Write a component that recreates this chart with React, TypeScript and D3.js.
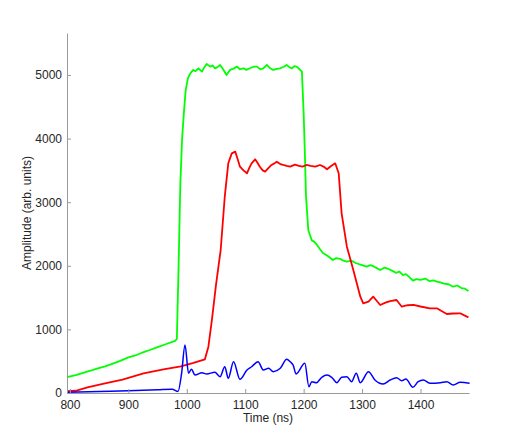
import React, { useEffect, useRef } from 'react';
import * as d3 from 'd3';

// time (ns), amplitude (arb. units)
const greenT = [795, 810, 820, 835, 845, 860, 870, 885, 900, 912, 925, 938, 950, 965, 980, 983, 986, 989, 992, 995, 998, 1002, 1006, 1011, 1015, 1020, 1026, 1030, 1034, 1040, 1044, 1048, 1052, 1057, 1063, 1068, 1074, 1080, 1086, 1091, 1097, 1102, 1108, 1114, 1120, 1126, 1131, 1137, 1142, 1148, 1154, 1160, 1166, 1171, 1176, 1180, 1184, 1188, 1193, 1197, 1200, 1202, 1204, 1208, 1214, 1218, 1222, 1228, 1233, 1242, 1250, 1256, 1262, 1268, 1274, 1282, 1290, 1300, 1308, 1314, 1320, 1326, 1331, 1338, 1345, 1352, 1358, 1364, 1370, 1375, 1380, 1387, 1393, 1400, 1408, 1415, 1422, 1428, 1434, 1440, 1448, 1456, 1463, 1470, 1476, 1482];
const greenV = [250, 280, 310, 350, 380, 420, 450, 500, 560, 590, 640, 680, 720, 770, 820, 850, 2000, 3300, 4000, 4400, 4750, 4950, 5026, 5079, 5060, 5105, 5052, 5120, 5173, 5131, 5150, 5105, 5120, 5157, 5079, 5000, 5079, 5100, 5131, 5090, 5105, 5080, 5105, 5130, 5131, 5090, 5105, 5157, 5110, 5079, 5095, 5105, 5130, 5157, 5120, 5105, 5140, 5131, 5090, 5052, 4400, 3800, 3100, 2560, 2400, 2380, 2340, 2260, 2200, 2150, 2090, 2120, 2110, 2080, 2065, 2080, 2040, 2010, 1986, 2010, 1990, 1960, 1934, 1970, 1950, 1920, 1890, 1910, 1855, 1870, 1830, 1766, 1790, 1780, 1800, 1760, 1770, 1750, 1740, 1720, 1710, 1671, 1690, 1650, 1640, 1604];

const redT = [795, 810, 830, 860, 890, 926, 960, 990, 1010, 1031, 1037, 1043, 1050, 1058, 1065, 1071, 1077, 1083, 1087, 1091, 1097, 1103, 1107, 1111, 1117, 1121, 1125, 1130, 1134, 1140, 1145, 1150, 1154, 1160, 1165, 1171, 1177, 1185, 1192, 1198, 1205, 1212, 1220, 1228, 1234, 1240, 1247, 1254, 1260, 1265, 1274, 1285, 1297, 1302, 1311, 1319, 1325, 1331, 1340, 1348, 1359, 1368, 1378, 1388, 1400, 1416, 1428, 1436, 1445, 1456, 1468, 1475, 1482];
const redV = [30, 35, 90, 150, 210, 307, 370, 420, 470, 530, 728, 1148, 1700, 2248, 3086, 3611, 3768, 3794, 3680, 3558, 3500, 3454, 3540, 3611, 3674, 3620, 3558, 3500, 3480, 3540, 3585, 3610, 3637, 3600, 3585, 3570, 3558, 3590, 3570, 3560, 3585, 3570, 3558, 3585, 3560, 3517, 3570, 3611, 3454, 2825, 2300, 1934, 1514, 1410, 1435, 1514, 1450, 1384, 1420, 1446, 1462, 1357, 1380, 1384, 1360, 1332, 1332, 1290, 1242, 1250, 1253, 1220, 1190];

const blueT = [795, 850, 900, 950, 975, 985, 991, 997, 1003, 1008, 1014, 1026, 1034, 1048, 1057, 1065, 1071, 1080, 1091, 1103, 1111, 1122, 1131, 1140, 1148, 1160, 1171, 1177, 1182, 1187, 1202, 1209, 1214, 1222, 1231, 1240, 1248, 1257, 1265, 1274, 1282, 1290, 1297, 1311, 1322, 1336, 1348, 1359, 1368, 1375, 1387, 1396, 1405, 1416, 1434, 1445, 1456, 1468, 1484];
const blueV = [10, 25, 35, 50, 60, 25, 300, 755, 310, 373, 283, 320, 299, 325, 256, 413, 231, 492, 215, 361, 413, 492, 361, 388, 335, 388, 530, 492, 440, 300, 467, 100, 178, 162, 247, 283, 247, 162, 247, 256, 178, 310, 162, 335, 204, 141, 204, 241, 193, 220, 90, 178, 204, 152, 162, 178, 126, 168, 152];

const xTicks = [800, 900, 1000, 1100, 1200, 1300, 1400];
const yTicks = [0, 1000, 2000, 3000, 4000, 5000];

const App = () => {
  const svgRef = useRef<SVGSVGElement>(null);

  useEffect(() => {
    const width = 519;
    const height = 442;
    const margin = { top: 33, right: 50, bottom: 49, left: 67 };

    const svg = d3.select(svgRef.current);
    svg.selectAll('*').remove();

    const x = d3.scaleLinear().domain([795, 1483]).range([margin.left, width - margin.right]);
    const y = d3.scaleLinear().domain([0, 5660]).range([height - margin.bottom, margin.top]);

    const font = '"Liberation Sans", Arial, sans-serif';

    const series = [
      { t: greenT, v: greenV, color: '#00ff00', curve: d3.curveLinear, w: 1.8 },
      { t: redT, v: redV, color: '#ff0000', curve: d3.curveLinear, w: 1.8 },
      { t: blueT, v: blueV, color: '#0000ff', curve: d3.curveMonotoneX, w: 1.5 },
    ];

    series.forEach(s => {
      const pts = s.t.map((t, i) => [t, s.v[i]] as [number, number]);
      const line = d3
        .line<[number, number]>()
        .x(d => x(d[0]))
        .y(d => y(d[1]))
        .curve(s.curve);
      svg
        .append('path')
        .attr('d', line(pts))
        .attr('fill', 'none')
        .attr('stroke', s.color)
        .attr('stroke-width', s.w)
        .attr('stroke-linejoin', 'round');
    });

    // x axis
    const gx = svg
      .append('g')
      .attr('transform', `translate(0,${height - margin.bottom})`)
      .call(
        d3.axisBottom(x).tickValues(xTicks).tickFormat(d3.format('d')).tickSizeInner(-4).tickSizeOuter(0).tickPadding(7)
      );
    gx.select('.domain').attr('stroke', '#9a9a9a');
    gx.selectAll('.tick line').attr('stroke', '#9a9a9a');
    gx.selectAll('text').style('font-family', font).style('font-size', '12px').attr('fill', '#262626');

    // y axis
    const gy = svg
      .append('g')
      .attr('transform', `translate(${margin.left},0)`)
      .call(
        d3.axisLeft(y).tickValues(yTicks).tickFormat(d3.format('d')).tickSizeInner(-4).tickSizeOuter(0).tickPadding(5)
      );
    gy.select('.domain').attr('stroke', '#9a9a9a');
    gy.selectAll('.tick line').attr('stroke', '#9a9a9a');
    gy.selectAll('text').style('font-family', font).style('font-size', '12px').attr('fill', '#262626');

    svg
      .append('text')
      .attr('x', 268)
      .attr('y', 422)
      .attr('text-anchor', 'middle')
      .style('font-family', font)
      .style('font-size', '12px')
      .attr('fill', '#262626')
      .text('Time (ns)');

    svg
      .append('text')
      .attr('transform', `translate(31,213) rotate(-90)`)
      .attr('text-anchor', 'middle')
      .style('font-family', font)
      .style('font-size', '12px')
      .attr('fill', '#262626')
      .text('Amplitude (arb. units)');
  }, []);

  return (
    <svg
      ref={svgRef}
      width={519}
      height={442}
      style={{ position: 'absolute', left: 0, top: 0, background: '#fff' }}
    ></svg>
  );
};

export default App;
